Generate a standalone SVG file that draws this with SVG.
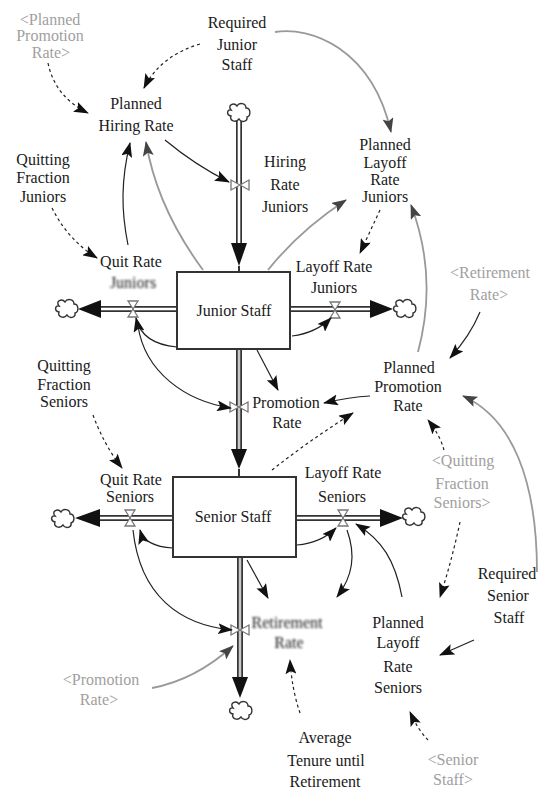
<svg xmlns="http://www.w3.org/2000/svg" width="541" height="791" viewBox="0 0 541 791">
  <style>
    .t { font-family: "Liberation Serif", "Times New Roman", "DejaVu Serif", serif; font-size: 16px; fill: #1a1a1a; text-anchor: middle; }
    .sh { fill: #a0a0a0; }
    .stock { fill: #fff; stroke: #333; stroke-width: 2; }
    .pipeo { stroke: #333; stroke-width: 6; fill: none; }
    .pipei { stroke: #fff; stroke-width: 2.6; fill: none; }
    .pipeg { stroke: #c8c8c8; stroke-width: 2.6; fill: none; }
    .fa { fill: #111; }
    .valve { fill: #fff; stroke: #777; stroke-width: 1.3; }
    .cloud { fill: #fff; stroke: #333; stroke-width: 1.4; }
    .c { fill: none; stroke: #222; stroke-width: 1.2; marker-end: url(#ah); }
    .cg { fill: none; stroke: #999; stroke-width: 1.8; marker-end: url(#ahg); }
    .d { stroke-dasharray: 3 3; }
  </style>
  <defs>
    <marker id="ah" viewBox="0 0 15 11" refX="14" refY="5.5" markerWidth="15" markerHeight="11" markerUnits="userSpaceOnUse" orient="auto">
      <path d="M0,0 L15,5.5 L0,11 L3,5.5 Z" fill="#111"/>
    </marker>
    <marker id="ahg" viewBox="0 0 15 11" refX="14" refY="5.5" markerWidth="15" markerHeight="11" markerUnits="userSpaceOnUse" orient="auto">
      <path d="M0,0 L15,5.5 L0,11 L3,5.5 Z" fill="#444"/>
    </marker>
    <path id="cl" class="cloud" d="M-8,-3 C-12,-8 -5,-11 -2,-7 C0,-11 7,-10 7,-5 C12,-5 12,3 8,4 C9,9 2,10 0,6 C-3,10 -10,8 -8,3 C-13,2 -12,-4 -8,-3 Z"/>
    <path id="vh" class="valve" d="M-5,-8 L5,-8 L-5,8 L5,8 Z"/>
    <path id="vv" class="valve" d="M-9,-5 L-9,5 L9,-5 L9,5 Z"/>
    <filter id="soft" x="-20%" y="-40%" width="140%" height="180%">
      <feGaussianBlur stdDeviation="1.1"/>
    </filter>
  </defs>

  <rect width="541" height="791" fill="#fff"/>

  <!-- flows: pipes, arrowheads, clouds, valves -->
  <g id="flows">
    <!-- hiring into Junior Staff -->
    <line class="pipeo" x1="239" y1="121" x2="239" y2="250"/>
    <line class="pipei" x1="239" y1="121" x2="239" y2="250"/>
    <polygon class="fa" points="231,243 247,243 239,266"/>
    <line x1="239" y1="266" x2="239" y2="272" stroke="#333" stroke-width="2"/>
    <use href="#cl" x="239" y="113"/>
    <use href="#vv" x="240" y="185"/>

    <!-- quitting of juniors -->
    <line class="pipeo" x1="177" y1="309" x2="96" y2="309"/>
    <line class="pipei" x1="177" y1="309" x2="96" y2="309"/>
    <polygon class="fa" points="78,309 101,300 101,318"/>
    <use href="#cl" x="67" y="309"/>
    <use href="#vh" x="133" y="309"/>

    <!-- layoff of juniors -->
    <line class="pipeo" x1="290" y1="309" x2="375" y2="309"/>
    <line class="pipei" x1="290" y1="309" x2="375" y2="309"/>
    <polygon class="fa" points="393,309 370,300 370,318"/>
    <use href="#cl" x="405" y="309"/>
    <use href="#vh" x="335" y="310"/>

    <!-- promotion juniors to seniors -->
    <line class="pipeo" x1="239" y1="349" x2="239" y2="455"/>
    <line class="pipeg" x1="239" y1="349" x2="239" y2="455"/>
    <polygon class="fa" points="231,449 247,449 239,469"/>
    <line x1="239" y1="469" x2="239" y2="477" stroke="#333" stroke-width="2"/>
    <use href="#vv" x="239" y="407"/>

    <!-- quitting of seniors -->
    <line class="pipeo" x1="173" y1="518" x2="96" y2="518"/>
    <line class="pipei" x1="173" y1="518" x2="96" y2="518"/>
    <polygon class="fa" points="75,518 100,509 100,527"/>
    <use href="#cl" x="63" y="519"/>
    <use href="#vh" x="130" y="518"/>

    <!-- layoff of seniors -->
    <line class="pipeo" x1="296" y1="518" x2="385" y2="518"/>
    <line class="pipei" x1="296" y1="518" x2="385" y2="518"/>
    <polygon class="fa" points="403,518 380,509 380,527"/>
    <use href="#cl" x="414" y="517"/>
    <use href="#vh" x="343" y="518"/>

    <!-- retirement -->
    <line class="pipeo" x1="240" y1="557" x2="240" y2="682"/>
    <line class="pipeg" x1="240" y1="557" x2="240" y2="682"/>
    <polygon class="fa" points="232,677 248,677 240,698"/>
    <use href="#cl" x="241" y="711"/>
    <use href="#vv" x="240" y="630"/>
  </g>

  <!-- information connectors -->
  <g id="connectors">
    <path class="c d" d="M48,63 Q55,97 88,113"/>
    <path class="c d" d="M200,44 Q160,56 144,88"/>
    <path class="cg" d="M275,32 C310,26 372,48 391,132"/>
    <path class="c" d="M165,140 Q195,165 229,182"/>
    <path class="c" d="M128,245 C121,210 121,180 130,143"/>
    <path class="cg" d="M203,270 C175,232 154,190 146,142"/>
    <path class="c d" d="M52,208 Q68,240 97,258"/>
    <path class="cg" d="M268,270 Q300,230 346,200"/>
    <path class="c d" d="M380,210 L360,253"/>
    <path class="cg" d="M418,352 C432,300 428,250 411,205"/>
    <path class="c" d="M480,312 Q470,336 450,358"/>
    <path class="c" d="M177,347 C155,345 140,336 136,318"/>
    <path class="c" d="M292,336 Q316,333 331,318"/>
    <path class="c" d="M257,350 L278,390"/>
    <path class="c" d="M138,326 C145,372 185,401 231,408"/>
    <path class="c" d="M370,396 Q350,397 324,403"/>
    <path class="c d" d="M272,470 Q310,440 353,413"/>
    <path class="c d" d="M444,450 Q440,435 428,420"/>
    <path class="cg" d="M537,572 C537,480 512,418 463,396"/>
    <path class="c d" d="M460,522 Q452,560 440,597"/>
    <path class="c" d="M474,640 L440,655"/>
    <path class="c d" d="M428,740 Q418,730 410,712"/>
    <path class="c d" d="M300,713 Q292,690 290,660"/>
    <path class="c" d="M402,597 C395,560 382,540 356,524"/>
    <path class="c" d="M297,545 Q321,543 336,528"/>
    <path class="c" d="M347,530 C356,555 353,576 337,597"/>
    <path class="c" d="M247,560 L268,598"/>
    <path class="c" d="M173,548 C155,547 143,541 140,530"/>
    <path class="c" d="M133,530 C140,596 180,625 232,630"/>
    <path class="cg" d="M152,688 Q195,680 233,646"/>
    <path class="c d" d="M93,415 Q104,445 122,468"/>
  </g>

  <!-- stocks -->
  <g id="junior-staff">
    <rect class="stock" x="177" y="272" width="113" height="77"/>
    <text class="t" x="234" y="316">Junior Staff</text>
  </g>
  <g id="senior-staff">
    <rect class="stock" x="173" y="477" width="123" height="80"/>
    <text class="t" x="233" y="522">Senior Staff</text>
  </g>

  <!-- rates -->
  <g id="hiring-rate-juniors">
    <text class="t" x="285" y="167">Hiring</text>
    <text class="t" x="285" y="190">Rate</text>
    <text class="t" x="285" y="212">Juniors</text>
  </g>
  <g id="quit-rate-juniors">
    <text class="t" x="131" y="267">Quit Rate</text>
    <text class="t" x="133" y="288" filter="url(#soft)">Juniors</text>
  </g>
  <g id="layoff-rate-juniors">
    <text class="t" x="334" y="272">Layoff Rate</text>
    <text class="t" x="334" y="293">Juniors</text>
  </g>
  <g id="promotion-rate">
    <text class="t" x="286" y="408">Promotion</text>
    <text class="t" x="287" y="428">Rate</text>
  </g>
  <g id="quit-rate-seniors">
    <text class="t" x="131" y="485">Quit Rate</text>
    <text class="t" x="130" y="502">Seniors</text>
  </g>
  <g id="layoff-rate-seniors">
    <text class="t" x="343" y="478">Layoff Rate</text>
    <text class="t" x="342" y="502">Seniors</text>
  </g>
  <g id="retirement-rate" filter="url(#soft)">
    <text class="t" x="287" y="628">Retirement</text>
    <text class="t" x="289" y="648">Rate</text>
  </g>

  <!-- auxiliaries and constants -->
  <g id="planned-promotion-rate-shadow">
    <text class="t sh" x="50" y="25">&lt;Planned</text>
    <text class="t sh" x="50" y="41">Promotion</text>
    <text class="t sh" x="51" y="58">Rate&gt;</text>
  </g>
  <g id="required-junior-staff">
    <text class="t" x="237" y="28">Required</text>
    <text class="t" x="237" y="50">Junior</text>
    <text class="t" x="237" y="70">Staff</text>
  </g>
  <g id="planned-hiring-rate">
    <text class="t" x="136" y="109">Planned</text>
    <text class="t" x="136" y="131">Hiring Rate</text>
  </g>
  <g id="quitting-fraction-juniors">
    <text class="t" x="43" y="165">Quitting</text>
    <text class="t" x="43" y="183">Fraction</text>
    <text class="t" x="43" y="202">Juniors</text>
  </g>
  <g id="planned-layoff-rate-juniors">
    <text class="t" x="385" y="150">Planned</text>
    <text class="t" x="385" y="168">Layoff</text>
    <text class="t" x="385" y="185">Rate</text>
    <text class="t" x="385" y="202">Juniors</text>
  </g>
  <g id="retirement-rate-shadow">
    <text class="t sh" x="490" y="278">&lt;Retirement</text>
    <text class="t sh" x="489" y="300">Rate&gt;</text>
  </g>
  <g id="quitting-fraction-seniors">
    <text class="t" x="64" y="371">Quitting</text>
    <text class="t" x="64" y="390">Fraction</text>
    <text class="t" x="64" y="407">Seniors</text>
  </g>
  <g id="planned-promotion-rate">
    <text class="t" x="409" y="373">Planned</text>
    <text class="t" x="408" y="392">Promotion</text>
    <text class="t" x="408" y="411">Rate</text>
  </g>
  <g id="quitting-fraction-seniors-shadow">
    <text class="t sh" x="463" y="466">&lt;Quitting</text>
    <text class="t sh" x="462" y="489">Fraction</text>
    <text class="t sh" x="462" y="508">Seniors&gt;</text>
  </g>
  <g id="required-senior-staff">
    <text class="t" x="507" y="579">Required</text>
    <text class="t" x="508" y="601">Senior</text>
    <text class="t" x="509" y="623">Staff</text>
  </g>
  <g id="planned-layoff-rate-seniors">
    <text class="t" x="398" y="628">Planned</text>
    <text class="t" x="398" y="648">Layoff</text>
    <text class="t" x="398" y="672">Rate</text>
    <text class="t" x="398" y="693">Seniors</text>
  </g>
  <g id="promotion-rate-shadow">
    <text class="t sh" x="101" y="685">&lt;Promotion</text>
    <text class="t sh" x="99" y="705">Rate&gt;</text>
  </g>
  <g id="average-tenure-until-retirement">
    <text class="t" x="325" y="743">Average</text>
    <text class="t" x="326" y="766">Tenure until</text>
    <text class="t" x="325" y="787">Retirement</text>
  </g>
  <g id="senior-staff-shadow">
    <text class="t sh" x="453" y="765">&lt;Senior</text>
    <text class="t sh" x="453" y="785">Staff&gt;</text>
  </g>
</svg>
